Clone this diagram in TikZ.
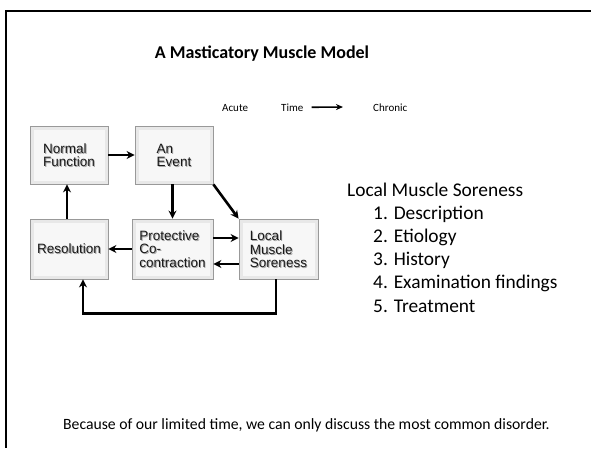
\documentclass[tikz,border=0pt]{standalone}
\usepackage{fontspec}
\setmainfont{Carlito}
\newfontfamily\boxfont{Liberation Sans}
\usetikzlibrary{arrows.meta,shadows}

% box caption with a soft offset shadow behind it, centred on the box
\newcommand{\shadowcap}[1]{\raisebox{-5.5pt}[0pt][0pt]{%
  \makebox[0pt][l]{\hspace{0.9pt}\raisebox{-0.9pt}{\color{black!35}%
    \begin{tabular}{@{}l@{}}#1\end{tabular}}}%
  \begin{tabular}{@{}l@{}}#1\end{tabular}}}

\begin{document}
\begin{tikzpicture}[x=1pt,y=-1pt,
  stage/.style={draw=black!40, line width=0.8pt, fill=black!9,
    font=\boxfont\fontsize{13.5}{12.5}\selectfont, inner sep=0pt,
    text=black!90,
    drop shadow={shadow xshift=1pt,shadow yshift=-1pt,opacity=0.25},
    path picture={\fill[black!3]
      ([shift={(3.5pt,-3.5pt)}]path picture bounding box.north west) rectangle
      ([shift={(-3.5pt,3.5pt)}]path picture bounding box.south east);}},
  flow/.style={line width=2.6pt, -{Stealth[length=8pt,width=8pt]}},
  txt/.style={anchor=base west, inner sep=0pt},
  big/.style={font=\fontsize{19.4}{22}\selectfont},
  small/.style={font=\fontsize{11}{13}\selectfont},
]
\useasboundingbox (0,0) rectangle (591,448);
\fill[white] (0,0) rectangle (591,448);
% slide frame (top and left edges)
\draw[line width=2pt] (591,11) -- (6,11) -- (6,448);

% title and time scale
\node[anchor=base, inner sep=0pt, font=\bfseries\fontsize{18}{22}\selectfont] (title) at (262,58) {A Masticatory Muscle Model};
\node[txt, small] (acute) at (222,111) {Acute};
\node[txt, small] (time) at (281,111) {Time};
\node[txt, small] (chronic) at (373,111) {Chronic};
\coordinate (timeend) at (343,107);
\draw[line width=1.6pt, -{Stealth[length=7pt,width=6pt]}] ([xshift=8pt]time.east) -- (timeend);

% stages of the model
\node[stage, minimum width=78pt, minimum height=58pt] (nf) at (69,155) {\shadowcap{Normal\\Function}};
\node[stage, minimum width=78pt, minimum height=58pt] (ev) at (174,155) {\shadowcap{An\\Event}};
\node[stage, minimum width=78pt, minimum height=60pt] (res) at (69,249) {\shadowcap{Resolution}};
\node[stage, minimum width=81pt, minimum height=60pt] (pc) at (172.5,249) {\shadowcap{Protective\\Co-\\contraction}};
\node[stage, minimum width=79pt, minimum height=60pt] (lm) at (278.5,249) {\shadowcap{Local\\Muscle\\Soreness}};

% transitions
\draw[flow] (nf.east) -- (ev.west);
\draw[flow] (pc.north |- ev.south) -- (pc.north);
\draw[flow] (ev.south east) -- (lm.north west);
\draw[flow] ([yshift=11pt]pc.east) -- ([yshift=11pt]lm.west);
\draw[flow] ([yshift=-15pt]lm.west) -- ([yshift=-15pt]pc.east);
\draw[flow] (pc.west) -- (res.east);
\draw[flow] ([xshift=-2pt]res.north) -- ([xshift=-2pt]nf.south);
\draw[flow] ([xshift=-2.5pt]lm.south) -- ++(0,34) -| ([xshift=14pt]res.south);

% topic outline
\node[txt, big] (lms) at (347,196) {Local Muscle Soreness};
\node[txt, big] (i1) at (373,219) {1. Description};
\node[txt, big] (i2) at (373,242) {2. Etiology};
\node[txt, big] (i3) at (373,265) {3. History};
\node[txt, big] (i4) at (373,288) {4. Examination findings};
\node[txt, big] (i5) at (373,312) {5. Treatment};

% closing remark
\node[txt, font=\fontsize{15.7}{18}\selectfont] (note) at (63,429) {Because of our limited time, we can only discuss the most common disorder.};
\end{tikzpicture}
\end{document}
